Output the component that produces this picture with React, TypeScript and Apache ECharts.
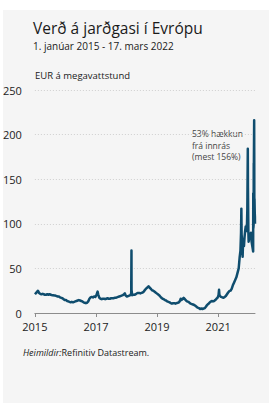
import React, { useEffect, useRef } from "react";
import * as echarts from "echarts";

const titleText = "Verð á jarðgasi í Evrópu";
const subtitleText = "1. janúar 2015 - 17. mars 2022";
const unitText = "EUR á megavattstund";
const noteLines = ["53% hækkun", "frá innrás", "(mest 156%)"];
const yearTicks = [2015, 2017, 2019, 2021];
const startDate = "2015-01-01";
const endDate = "2022-03-17";

const p2015: [string, number][] = [
  ["2015-01-02", 21], ["2015-01-16", 22.5], ["2015-01-30", 24], ["2015-02-06", 25], ["2015-02-20", 22.5],
  ["2015-03-06", 21.5], ["2015-03-20", 21], ["2015-04-03", 21.5], ["2015-04-17", 21], ["2015-05-01", 20.5],
  ["2015-05-15", 20.5], ["2015-05-29", 21], ["2015-06-12", 20.5], ["2015-06-26", 21], ["2015-07-10", 20.5],
  ["2015-07-24", 20], ["2015-08-07", 20], ["2015-08-21", 19.5], ["2015-09-04", 19.5], ["2015-09-18", 19],
  ["2015-10-02", 18.5], ["2015-10-16", 18.5], ["2015-10-30", 17.5], ["2015-11-13", 17], ["2015-11-27", 16.5],
  ["2015-12-11", 15.5], ["2015-12-24", 14.5],
];
const p2016: [string, number][] = [
  ["2016-01-08", 14.5], ["2016-01-22", 13.5], ["2016-02-05", 13], ["2016-02-19", 12.5], ["2016-03-04", 12],
  ["2016-03-18", 12.5], ["2016-04-01", 12], ["2016-04-15", 12.5], ["2016-04-29", 13], ["2016-05-13", 13.5],
  ["2016-05-27", 14], ["2016-06-10", 14.5], ["2016-06-24", 14], ["2016-07-08", 13.5], ["2016-07-22", 13],
  ["2016-08-05", 12], ["2016-08-19", 11.5], ["2016-09-02", 11], ["2016-09-16", 11.5], ["2016-09-30", 13],
  ["2016-10-14", 16], ["2016-10-28", 17.5], ["2016-11-11", 18], ["2016-11-25", 17.5], ["2016-12-09", 18.5],
  ["2016-12-23", 18],
];
const p2017: [string, number][] = [
  ["2017-01-06", 20], ["2017-01-13", 22], ["2017-01-20", 24], ["2017-01-27", 21], ["2017-02-10", 17],
  ["2017-02-24", 16], ["2017-03-10", 15.5], ["2017-03-24", 16], ["2017-04-07", 16], ["2017-04-21", 15.5],
  ["2017-05-05", 16], ["2017-05-19", 16.5], ["2017-06-02", 16], ["2017-06-16", 16], ["2017-06-30", 16.5],
  ["2017-07-14", 16.5], ["2017-07-28", 16.5], ["2017-08-11", 17], ["2017-08-25", 17], ["2017-09-08", 17.5],
  ["2017-09-22", 18], ["2017-10-06", 18.5], ["2017-10-20", 19], ["2017-11-03", 19.5], ["2017-11-17", 20],
  ["2017-12-01", 21], ["2017-12-12", 22], ["2017-12-22", 19.5],
];
const p2018: [string, number][] = [
  ["2018-01-05", 18.5], ["2018-01-19", 19], ["2018-02-02", 19.5], ["2018-02-16", 20], ["2018-02-26", 22],
  ["2018-03-01", 70], ["2018-03-02", 26], ["2018-03-09", 20], ["2018-03-23", 20.5], ["2018-04-06", 20.5],
  ["2018-04-20", 21], ["2018-05-04", 22], ["2018-05-18", 22.5], ["2018-06-01", 22.5], ["2018-06-15", 22],
  ["2018-06-29", 22.5], ["2018-07-13", 23], ["2018-07-27", 24], ["2018-08-10", 26], ["2018-08-24", 27.5],
  ["2018-09-07", 28.5], ["2018-09-21", 30], ["2018-10-05", 28.5], ["2018-10-19", 27], ["2018-11-02", 25.5],
  ["2018-11-16", 25], ["2018-11-30", 24], ["2018-12-14", 23], ["2018-12-28", 22],
];
const p2019: [string, number][] = [
  ["2019-01-11", 21], ["2019-01-25", 20], ["2019-02-08", 18.5], ["2019-02-22", 17], ["2019-03-08", 16],
  ["2019-03-22", 15.5], ["2019-04-05", 14.5], ["2019-04-19", 14], ["2019-05-03", 13], ["2019-05-17", 12.5],
  ["2019-05-31", 12], ["2019-06-14", 11], ["2019-06-28", 10.5], ["2019-07-12", 11], ["2019-07-26", 11],
  ["2019-08-09", 10.5], ["2019-08-23", 11], ["2019-09-06", 11.5], ["2019-09-20", 12], ["2019-10-04", 14],
  ["2019-10-11", 16], ["2019-10-18", 14.5], ["2019-11-01", 15.5], ["2019-11-15", 17], ["2019-11-29", 15.5],
  ["2019-12-13", 14], ["2019-12-27", 13],
];
const p2020: [string, number][] = [
  ["2020-01-10", 12.5], ["2020-01-24", 11.5], ["2020-02-07", 10.5], ["2020-02-21", 10], ["2020-03-06", 9.5],
  ["2020-03-20", 9], ["2020-04-03", 8], ["2020-04-17", 7], ["2020-05-01", 6], ["2020-05-15", 5.5],
  ["2020-05-29", 4.5], ["2020-06-12", 5], ["2020-06-26", 4.5], ["2020-07-10", 5], ["2020-07-24", 5.5],
  ["2020-08-07", 7], ["2020-08-21", 9], ["2020-09-04", 10], ["2020-09-18", 11.5], ["2020-10-02", 12.5],
  ["2020-10-16", 13.5], ["2020-10-30", 13], ["2020-11-13", 13.5], ["2020-11-27", 14.5], ["2020-12-11", 16],
  ["2020-12-24", 17],
];
const p2021: [string, number][] = [
  ["2021-01-05", 20], ["2021-01-11", 26], ["2021-01-15", 21], ["2021-01-22", 19], ["2021-02-05", 18],
  ["2021-02-19", 17.5], ["2021-03-05", 17], ["2021-03-19", 18], ["2021-04-02", 19], ["2021-04-16", 21],
  ["2021-04-30", 23], ["2021-05-14", 24.5], ["2021-05-28", 25], ["2021-06-11", 27], ["2021-06-25", 31],
  ["2021-07-09", 34], ["2021-07-23", 37], ["2021-08-06", 40], ["2021-08-20", 45], ["2021-09-03", 50],
  ["2021-09-15", 63], ["2021-09-24", 70], ["2021-10-01", 90], ["2021-10-05", 117], ["2021-10-08", 88],
  ["2021-10-15", 80], ["2021-10-20", 63], ["2021-10-26", 82], ["2021-11-05", 75], ["2021-11-12", 85],
  ["2021-11-19", 92], ["2021-11-26", 97], ["2021-12-03", 92], ["2021-12-10", 95], ["2021-12-15", 115],
  ["2021-12-21", 184], ["2021-12-23", 140], ["2021-12-28", 90], ["2021-12-31", 80],
];
const p2022: [string, number][] = [
  ["2022-01-07", 85], ["2022-01-14", 83], ["2022-01-21", 88], ["2022-01-28", 90], ["2022-02-04", 80],
  ["2022-02-11", 76], ["2022-02-18", 72], ["2022-02-23", 69], ["2022-02-24", 134], ["2022-02-25", 95],
  ["2022-02-28", 98], ["2022-03-01", 120], ["2022-03-02", 168], ["2022-03-03", 150], ["2022-03-04", 175],
  ["2022-03-07", 216], ["2022-03-08", 180], ["2022-03-09", 130], ["2022-03-10", 125], ["2022-03-11", 128],
  ["2022-03-14", 112], ["2022-03-16", 108], ["2022-03-17", 100],
];

const allPrices = [...p2015, ...p2016, ...p2017, ...p2018, ...p2019, ...p2020, ...p2021, ...p2022];

const YEAR_MS = 365.25 * 86400000;
const t0 = Date.parse(startDate + "T00:00:00Z");
const toYears = (d: string) => (Date.parse(d + "T00:00:00Z") - t0) / YEAR_MS;

export default function App() {
  const ref = useRef<HTMLDivElement>(null);
  useEffect(() => {
    if (!ref.current) return;
    const chart = echarts.init(ref.current, null, { renderer: "svg" });
    const font = "'Open Sans', sans-serif";
    const tickVals = yearTicks.map((y) => y - yearTicks[0]);
    chart.setOption({
      animation: false,
      backgroundColor: "#ffffff",
      textStyle: { fontFamily: font },
      grid: { left: 34, right: 14, top: 90, bottom: 90, containLabel: false },
      xAxis: {
        type: "value",
        min: 0,
        max: toYears(endDate),
        interval: 2,
        axisLine: { show: true, lineStyle: { color: "#8c8c8c", width: 1 } },
        axisTick: { show: true, length: 4, lineStyle: { color: "#8c8c8c" }, customValues: tickVals },
        axisLabel: {
          customValues: tickVals,
          formatter: (v: number) => String(Math.round(v) + yearTicks[0]),
          color: "#222",
          fontSize: 11,
          margin: 8,
          fontFamily: font,
        },
        splitLine: { show: false },
      },
      yAxis: {
        type: "value",
        min: 0,
        max: 250,
        interval: 50,
        axisLine: { show: false },
        axisTick: { show: false },
        axisLabel: { color: "#222", fontSize: 11, margin: 13, fontFamily: font },
        splitLine: { show: true, lineStyle: { color: "#cfcfcf", type: [1, 2], width: 1 } },
      },
      series: [
        {
          type: "line",
          showSymbol: false,
          data: allPrices.map(([d, v]) => [toYears(d), v]),
          lineStyle: { color: "#0f4d6e", width: 2.5, join: "round" },
          z: 3,
        },
      ],
      graphic: [
        { type: "rect", shape: { x: 3, y: 10, width: 266, height: 393 }, style: { fill: "#f5f5f5" }, z: -10 },
        { type: "text", x: 33, y: 20, style: { text: titleText, fill: "#1a1a1a", font: `15.5px ${font}` } },
        { type: "text", x: 33, y: 41, style: { text: subtitleText, fill: "#1a1a1a", font: `10px ${font}` } },
        { type: "text", x: 35, y: 70, style: { text: unitText, fill: "#1a1a1a", font: `9.5px ${font}` } },
        {
          type: "text",
          x: 192,
          y: 128,
          style: { text: noteLines.join("\n"), fill: "#444", font: `8.5px ${font}`, lineHeight: 11.5 },
        },
        {
          type: "text",
          x: 23,
          y: 348,
          style: {
            text: "{i|Heimildir:}{r|Refinitiv Datastream.}",
            rich: {
              i: { fontStyle: "italic", fontSize: 9, fontFamily: font, fill: "#1a1a1a", color: "#1a1a1a" },
              r: { fontSize: 9, fontFamily: font, fill: "#1a1a1a", color: "#1a1a1a" },
            },
          },
        },
      ],
    });
    return () => chart.dispose();
  }, []);
  return (
    <div
      ref={ref}
      style={{ position: "fixed", left: 0, top: 0, width: 269, height: 403 }}
    />
  );
}
